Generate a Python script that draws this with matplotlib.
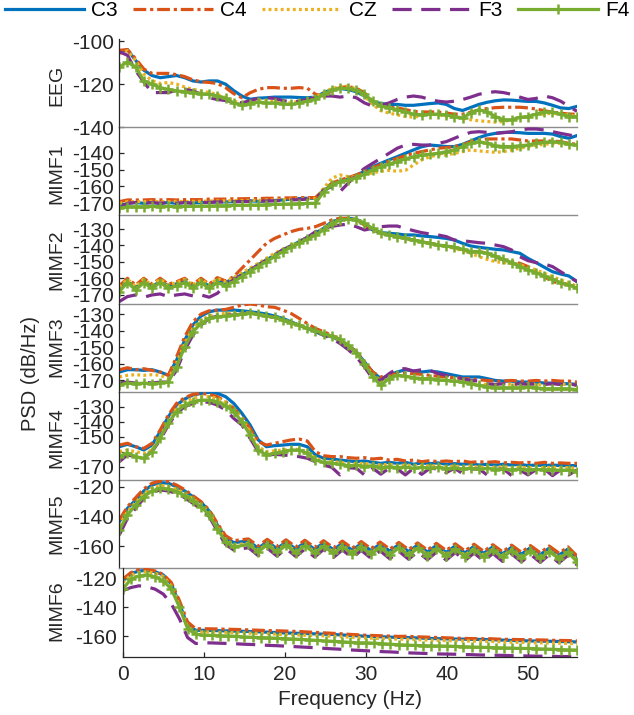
import matplotlib
matplotlib.use('Agg')
import matplotlib.pyplot as plt

plt.rcParams['font.family'] = ['Liberation Sans', 'DejaVu Sans']
plt.rcParams['axes.unicode_minus'] = False

# ---------------- data ----------------
channels = ['C3', 'C4', 'CZ', 'F3', 'F4']
panels = ['EEG', 'MIMF1', 'MIMF2', 'MIMF3', 'MIMF4', 'MIMF5', 'MIMF6']
freq = list(range(57))  # Hz
freq_m5 = [0, 1, 2, 3, 4, 5, 6, 7, 8, 9, 10, 11, 12, 13, 14,
           15.8, 17.0, 18.1, 19.3, 20.4, 21.6, 22.7, 23.9, 25.0, 26.2, 27.3, 28.5,
           29.6, 30.8, 31.9, 33.1, 34.2, 35.4, 36.5, 37.7, 38.8, 40.0, 41.1, 42.3,
           43.4, 44.6, 45.7, 46.9, 48.0, 49.2, 50.3, 51.5, 52.6, 53.8, 54.9, 56.0]
xticks = [0, 10, 20, 30, 40, 50]

eeg_c3 = [-105, -104, -109, -113.5, -116, -117, -116.5, -116, -117, -118.5,
          -119, -118.5, -118.5, -120, -123, -125.5, -127, -126.5, -126.3, -126,
          -126, -126, -126.2, -126.3, -126, -124, -122.5, -122, -122.5, -123.5,
          -125.5, -128, -129, -129.4, -129.4, -129.8, -129.8, -129.4, -129, -128.7,
          -129.4, -131.3, -132.2, -130.8, -129.4, -128.4, -127.7, -127.3, -127.4, -127.7,
          -128, -128, -128.7, -129.8, -131, -131.3, -130.3]
eeg_c4 = [-104.3, -104, -108.2, -113, -115, -115, -115, -115.6, -116.5, -118,
          -118.9, -119.2, -119.7, -121.6, -124.4, -126.3, -124, -122.4, -121.6, -121.6,
          -121.9, -121.9, -121.6, -121.9, -124.7, -125.5, -123.1, -121.6, -121.1, -121.9,
          -124, -127.9, -130.2, -130.7, -131, -131.8, -132.6, -132.9, -132.9, -132.9,
          -133.4, -133.9, -133.9, -133, -132, -131.3, -130.9, -130.7, -130.7, -130.7,
          -131, -131.5, -132.3, -133, -133.4, -133.9, -133.9]
eeg_cz = [-105.8, -104.5, -109, -115.3, -118.4, -119.7, -119.2, -120, -121.3, -122.4,
          -123.1, -123.9, -124.7, -126.3, -127.9, -128.7, -127.9, -127.4, -127.6, -127.9,
          -128.7, -128.7, -127.9, -127.1, -126, -123.9, -122, -121.3, -120.8, -122.4,
          -125.5, -129.4, -132.3, -133.4, -134.2, -135, -135.3, -134.6, -133.9, -134.2,
          -135, -135.4, -135.7, -136.5, -137, -137.3, -137.6, -137.3, -136.5, -135.4,
          -135, -134.2, -133.9, -133.4, -133.9, -134.2, -135]
eeg_f3 = [-105, -106.6, -113.7, -119, -123.9, -123.9, -123.9, -122.8, -122.4, -123.1,
          -124.7, -126.3, -127.1, -127.6, -128.2, -128.7, -127.6, -126.6, -126.3, -126.6,
          -127.6, -128.2, -127.9, -127.1, -126.3, -125.5, -125.5, -126, -125.5, -126.3,
          -128.7, -130.2, -129.8, -128.7, -127.1, -126, -125.5, -126, -127.1, -127.9,
          -128.3, -127.9, -127.1, -126, -124.7, -123.9, -123.5, -123.9, -124.7, -126,
          -127.1, -126.6, -125.5, -126.3, -127.9, -130.2, -132.6]
eeg_f4 = [-112, -109.8, -112, -118.4, -120, -121.6, -122.4, -123.1, -123.5, -123.9,
          -124.4, -124.7, -125.5, -126.6, -128.7, -129.8, -129.1, -128.3, -128.7, -128.7,
          -129.1, -129.4, -128.7, -127.9, -127.1, -124.7, -122.8, -122, -122, -122.8,
          -124.7, -127.9, -130.2, -131, -131.8, -132.9, -133.9, -134.2, -133.9, -133.9,
          -134.2, -135, -135.7, -133.4, -131.8, -132.9, -135, -136.5, -136.5, -135.4,
          -135, -133.9, -132.9, -132.9, -133.9, -135, -135]

m1_c3 = [-172, -170, -169.5, -170, -169.5, -170, -169.5, -170, -169.5, -169.8,
         -169.5, -169.3, -169, -169.2, -169, -168.8, -168.5, -168.8, -168.5, -168.3,
         -168, -167.5, -167.2, -167, -167, -163.1, -159.1, -157.2, -155.6, -153.2,
         -151.2, -148.3, -146.3, -144.3, -142.4, -140.4, -138.4, -136.5, -135.5, -135.9,
         -136.4, -136.4, -135.1, -133.1, -131.1, -129.5, -128.6, -128, -128, -128.2,
         -128.6, -128.6, -128.6, -129, -130.5, -131.5, -129.9]
m1_c4 = [-169, -168, -168, -168, -167.8, -168, -167.8, -168, -167.8, -167.8,
         -167.8, -167.5, -167.5, -167.5, -167.3, -167.3, -167.2, -167.2, -167, -167,
         -166.8, -166.8, -166.6, -166.6, -166.6, -162.1, -158.1, -156.2, -154.8, -153.2,
         -151.2, -148.9, -147, -145, -143.4, -141.8, -140.4, -139.4, -138.4, -137.4,
         -137, -136.4, -135.5, -133.5, -132.5, -131.9, -131.9, -131.9, -131.9, -132.5,
         -133.1, -133.1, -133.1, -133.1, -133.5, -134.5, -135.1]
m1_cz = [-170, -169, -169, -169, -168.8, -169, -169, -168.8, -169, -168.8,
         -168.8, -168.6, -168.6, -168.5, -168.4, -168.4, -168.2, -168.2, -168, -168,
         -167.8, -167.5, -167.5, -167.2, -167, -161.1, -155.2, -153.2, -154.2, -154.5,
         -153, -152, -151, -150.5, -151, -150.5, -147.3, -144.3, -142.4, -141.4,
         -141.4, -140.4, -139.4, -138.4, -139, -139.4, -139.8, -139.4, -138.4, -137.4,
         -136.4, -135.5, -135.1, -134.5, -134.5, -135.1, -135.5]
m1_f3 = [-173, -170, -169.5, -170, -169.5, -170, -169.5, -170, -169.5, -170,
         -169.5, -169.5, -169.2, -169.2, -169, -169, -168.8, -168.8, -168.6, -168.5,
         -168.3, -168, -167.8, -167.5, -167.2, -162.1, -160.1, -163.1, -158.1, -153.2,
         -149.3, -146.3, -143.4, -140.4, -137.4, -135.5, -135.1, -135.5, -135.5, -134.5,
         -133.5, -131.5, -129.5, -128, -127.6, -128, -128.6, -128.2, -127.6, -126.6,
         -126, -126, -126.6, -127.6, -128.6, -129.5, -130.5]
m1_f4 = [-173, -172, -172, -172, -171.8, -172, -171.8, -172, -171.8, -171.8,
         -171.6, -171.6, -171.4, -171.4, -171.2, -171.2, -171, -171, -170.8, -170.6,
         -170.5, -170.3, -170.2, -170, -170, -163.1, -159.1, -157.2, -156.2, -154.8,
         -152.8, -150.3, -148.3, -146.9, -145.3, -143.7, -142.4, -141.4, -141, -140.4,
         -139.4, -138.4, -136.4, -134.5, -133.5, -134.5, -135.9, -136.4, -136.4, -135.9,
         -135.5, -134.5, -133.9, -133.5, -133.9, -135.1, -135.5]

m2_c3 = [-166.6, -161.9, -165.4, -161.9, -164.9, -161.9, -164.5, -163.3, -161.9, -164.9,
         -161.9, -164.5, -161.3, -162.5, -159.9, -157.9, -154.8, -151.8, -148.8, -145.8,
         -142.7, -140.3, -137.7, -135.1, -132.4, -129.6, -125.6, -124.1, -123.5, -124.1,
         -126.6, -130.6, -132.2, -132.6, -133, -133.6, -133.6, -134.2, -134.6, -135.1,
         -135.7, -136.7, -138.7, -140.3, -141.1, -141.7, -142.3, -142.7, -143.7, -144.7,
         -147.8, -150.4, -153.2, -155.9, -157.3, -158.5, -161.9]
m2_c4 = [-164.5, -159.9, -164, -159.9, -163.5, -159.9, -163.5, -162, -159.9, -163.5,
         -159.9, -163.5, -159.5, -161.5, -158.9, -153.8, -148.8, -143.7, -138.7, -135.7,
         -133.6, -131.6, -130.2, -129.6, -128.6, -126.6, -124.5, -123.5, -123.5, -124.5,
         -127.6, -130.6, -132.6, -133.6, -134.6, -135.7, -136.7, -137.7, -138.7, -139.7,
         -140.3, -141.1, -142.7, -143.7, -143.7, -144.7, -146.8, -148.8, -149.8, -150.8,
         -152.8, -155.9, -158.9, -161.9, -162.9, -163.9, -165.4]
m2_cz = [-165, -160.5, -164.9, -160.5, -164, -160.5, -164, -162.5, -160.5, -164,
         -160.5, -164, -160, -162, -159.5, -156.5, -153.8, -150.8, -147.8, -144.7,
         -142.3, -140.3, -137.7, -135.1, -132.6, -129.6, -126.6, -124.5, -123.5, -124.1,
         -126.6, -130.2, -132.4, -133.6, -134.6, -135.7, -136.7, -137.7, -138.7, -139.7,
         -140.7, -141.7, -143.2, -144.7, -146.8, -148.4, -149.8, -150.4, -150.8, -151.8,
         -153.2, -154.8, -156.9, -158.9, -160.9, -162.5, -164.9]
m2_f3 = [-174, -171, -170, -171.4, -170, -169.4, -171, -170, -169.4, -170.6,
         -170, -171.4, -169, -163.9, -160.9, -157.9, -154.8, -151.8, -148.8, -145.8,
         -142.7, -140.3, -137.7, -135.1, -131.6, -129.6, -128.4, -127.6, -127, -128.6,
         -130.6, -129.6, -128.6, -128.2, -128.2, -129.6, -131, -132.2, -133, -133.6,
         -134.6, -136.7, -137.1, -137.7, -138.3, -138.7, -139.7, -140.7, -142.7, -146.8,
         -149.2, -150.4, -151.2, -152.8, -155.9, -158.9, -161.9]
m2_f4 = [-168, -162.5, -167, -162.5, -166, -162.5, -166, -164.5, -162.5, -166,
         -162.5, -166, -162.5, -164.5, -161.9, -158.9, -155.9, -152.8, -149.8, -146.8,
         -143.7, -141.1, -138.7, -136.3, -133.6, -130.6, -127, -124.5, -124.1, -124.5,
         -126.6, -129.6, -132.2, -133.6, -134.6, -135.7, -136.7, -137.7, -138.7, -139.7,
         -140.3, -141.1, -142.3, -143.7, -143.7, -144.7, -146.4, -148.4, -150.4, -152.8,
         -154.8, -156.5, -158.5, -160.5, -162.5, -163.9, -165.9]

m3_c3 = [-164.9, -163.5, -163.5, -163.9, -163.5, -164.9, -166.9, -157.8, -145.6, -136.5,
         -131, -128.4, -127.4, -127.4, -127.4, -127.8, -128.4, -129, -129.8, -131,
         -132.4, -134.5, -136.5, -138.5, -140.5, -142.6, -143.6, -145.6, -148.7, -152.7,
         -158.8, -164.9, -168.9, -166.9, -164.9, -163.5, -164.3, -164.9, -164.3, -164.9,
         -165.9, -166.9, -167.9, -167.9, -167.9, -168.9, -170, -170.4, -170.4, -171,
         -171, -171, -171.6, -171.6, -172, -172, -172.4]
m3_c4 = [-163.5, -162.3, -163.5, -162.9, -163.9, -164.9, -166.9, -155.8, -143.6, -134.5,
         -129.8, -127.8, -127.4, -127, -125.7, -124.3, -123.7, -124.3, -125.3, -125.7,
         -127.4, -129.4, -132.4, -135.5, -138.5, -140.5, -142.6, -145.2, -148.7, -152.7,
         -158.8, -164.9, -167.9, -166.9, -165.9, -165.5, -165.9, -166.3, -166.9, -167.5,
         -167.9, -168.3, -168.9, -168.9, -169.6, -170, -170.4, -170.4, -170, -170.4,
         -170.4, -170, -170.4, -170, -170.4, -170.4, -171]
m3_cz = [-167.9, -166.9, -166.5, -166.9, -166.5, -166.9, -168.9, -159.8, -147.6, -138.5,
         -133.4, -131, -129.8, -129.4, -129.4, -129.4, -129, -129.8, -131, -131.8,
         -133.4, -135.1, -136.5, -138.5, -139.9, -141.6, -143.2, -145.2, -148.7, -153.3,
         -159.8, -166.9, -170, -167.9, -166.9, -167.5, -168.3, -168.9, -168.9, -169.6,
         -170, -170.4, -171, -171.6, -172, -172.4, -172.4, -172, -172.4, -172.4,
         -172, -172.4, -172.4, -172.4, -172.4, -172.4, -173]
m3_f3 = [-171.6, -171, -171.6, -171, -171.6, -171, -171, -163.9, -151.7, -142.6,
         -136.5, -132.4, -131, -130.4, -130.4, -129.8, -129.4, -130, -131, -131.8,
         -133.4, -135.1, -136.5, -138.5, -139.9, -142.6, -144.6, -147.6, -151.3, -155.8,
         -161.8, -168.9, -170, -165.9, -162.9, -162.9, -164.3, -163.5, -163.9, -165.9,
         -166.9, -167.9, -168.9, -170, -170.4, -172, -172.4, -172, -172.4, -172,
         -172.4, -172, -172.4, -172, -172.4, -172, -173]
m3_f4 = [-173, -171.6, -172, -171.6, -172, -171.6, -171, -161.8, -149.7, -140.5,
         -135.5, -132.4, -131.4, -131, -130.4, -129.8, -129.4, -130, -131, -131.8,
         -133.4, -135.1, -136.5, -138.5, -139.9, -141.6, -143.2, -145.2, -148.7, -153.3,
         -159.8, -167.9, -173, -168.9, -166.9, -167.5, -168.3, -168.9, -168.9, -169.6,
         -170, -170.4, -171, -172, -173, -174, -174.4, -174.4, -174.4, -174.4,
         -174, -174.4, -175, -175, -175, -175, -175.6]

m4_c3 = [-156.7, -155.1, -156.7, -158.9, -155.6, -146.7, -136.7, -128.9, -124.9, -122.2,
         -121.1, -120.4, -121.1, -123.3, -127.8, -134.4, -142.2, -152.2, -156.7, -156,
         -155.6, -155.1, -155.1, -156.7, -162.2, -164.4, -164.9, -165.6, -166.2, -166.7,
         -166.2, -167.1, -167.8, -167.1, -167.8, -167.1, -168.4, -167.5, -168, -167.5,
         -168.4, -168, -168.4, -168, -168.9, -168.4, -168.9, -168.4, -168.9, -168.4,
         -169.3, -168.9, -169.3, -168.9, -169.3, -169.3, -169.3]
m4_c4 = [-155.6, -154.4, -156.7, -157.8, -154.4, -145.6, -135.6, -127.8, -124, -121.8,
         -121.1, -121.8, -123.3, -126.7, -131.1, -136.7, -144.4, -153.3, -155.6, -154.4,
         -153.3, -152.2, -151.6, -152.9, -160, -162.7, -163.3, -163.3, -164, -164.4,
         -164, -164.9, -164.4, -165.6, -165.1, -166.2, -165.6, -166.7, -166, -166.7,
         -166.2, -166.7, -166.2, -167.1, -166.7, -167.1, -166.7, -167.5, -167.1, -167.5,
         -167.1, -167.8, -167.1, -167.8, -167.5, -167.8, -167.8]
m4_cz = [-160, -158.9, -160, -161.1, -158.9, -150, -140, -131.1, -126.7, -124.4,
         -123.3, -123.3, -124.4, -127.1, -131.1, -137.8, -146.7, -156.7, -160, -159.5,
         -158.9, -158.5, -158.5, -160, -164.4, -166.2, -166.7, -167.1, -167.8, -168,
         -167.8, -168.4, -168.9, -168.4, -169.3, -168.9, -169.3, -169.3, -169.6, -169.3,
         -170, -169.6, -170, -169.6, -170.4, -170, -170.4, -170, -170.7, -170.4,
         -170.7, -170.4, -170.7, -170.4, -170.7, -170.7, -171.1]
m4_f3 = [-166.7, -162.2, -163.3, -164, -160, -152.2, -142.2, -134.4, -130, -127.8,
         -126.7, -127.1, -128.9, -132.2, -137.8, -142.2, -151.1, -160, -162.2, -161.8,
         -162.2, -162.7, -163.3, -164.4, -166.7, -168.9, -170.5, -175.5, -170.7, -171.1,
         -175.5, -171.1, -175, -171.1, -171.5, -175.5, -171.1, -175.1, -171.1, -171.5,
         -174, -171.1, -174.5, -171.6, -171.5, -175.5, -171.8, -171.5, -176, -172.2,
         -175.5, -172, -171.6, -176, -172.2, -175.5, -172.2]
m4_f4 = [-163.3, -161.1, -163.3, -164.4, -160, -151.1, -141.1, -133.3, -128.9, -126.7,
         -125.6, -125.6, -126.7, -129.3, -133.3, -140, -148.9, -158.9, -162.2, -161.1,
         -160, -158.9, -158.9, -161.1, -165.6, -167.1, -167.8, -168.4, -169.5, -168.9,
         -170, -169.3, -170.7, -170, -170.7, -170.2, -171.1, -170.5, -171.1, -170.5,
         -171.5, -170.7, -171.5, -171.1, -171.8, -171.1, -172, -171.5, -172.2, -171.5,
         -172.2, -171.8, -172.2, -172, -172.5, -172.2, -173.3]

m5_c3 = [-143.4, -134.4, -128.8, -122.7, -118.7, -117, -117.5, -119.8, -122.7, -126.5,
         -130.3, -136.2, -145.6, -154.2, -157.5,
         -156.4, -161.3, -156.8, -161.6, -157, -161.8, -157.3, -162, -157.6, -162.3,
         -157.9, -162.6, -158.2, -162.9, -158.5, -163.2, -158.8, -163.5, -159.1, -163.8,
         -159.4, -164.1, -159.7, -164.4, -160, -164.7, -160.3, -165, -160.6, -165.3,
         -160.9, -165.6, -161.2, -165.9, -161.8, -167.9]
m5_c4 = [-142.2, -133.3, -127.2, -121.3, -117.5, -116, -116.4, -118.7, -121.8, -125.8,
         -129.9, -135.5, -144.5, -152.8, -156.2,
         -155, -159.8, -155.3, -160.1, -155.6, -160.4, -155.9, -160.7, -156.2, -161,
         -156.5, -161.3, -156.8, -161.6, -157.1, -161.9, -157.4, -162.2, -157.7, -162.5,
         -158, -162.8, -158.3, -163.1, -158.6, -163.4, -158.9, -163.7, -159.2, -164,
         -159.5, -164.3, -159.8, -164.6, -160.4, -166.5]
m5_cz = [-146, -136.5, -130.5, -124.5, -120.5, -119, -119.5, -121.5, -124.3, -128,
         -131.8, -137.5, -147, -155.5, -159,
         -158, -162.8, -158.3, -163.1, -158.6, -163.4, -158.9, -163.7, -159.2, -164,
         -159.5, -164.3, -159.8, -164.6, -160.1, -164.9, -160.4, -165.2, -160.7, -165.5,
         -161, -165.8, -161.3, -166.1, -161.6, -166.4, -161.9, -166.7, -162.2, -167,
         -162.5, -167.3, -162.8, -167.6, -163.4, -169.5]
m5_f3 = [-152.4, -141.1, -134.4, -127.6, -123.6, -122, -122.7, -124.3, -127.2, -131,
         -134.8, -140, -149.7, -158.7, -162.5,
         -160.9, -166.3, -161.2, -166.6, -161.5, -166.9, -161.8, -167.2, -162.1, -167.5,
         -162.4, -167.8, -162.7, -168.1, -163, -168.4, -163.3, -168.7, -163.6, -169,
         -163.9, -169.3, -164.2, -169.6, -164.5, -169.9, -164.8, -170.2, -165.1, -170.5,
         -165.4, -170.8, -165.7, -171.1, -166, -172.6]
m5_f4 = [-149, -138.9, -132.1, -126.5, -122.7, -120.9, -121.3, -123.1, -125.8, -129.4,
         -133.3, -138.9, -148.3, -156.9, -160.5,
         -158.7, -163.6, -159, -163.9, -159.3, -164.2, -159.6, -164.5, -159.9, -164.8,
         -160.2, -165.1, -160.5, -165.4, -160.8, -165.7, -161.1, -166, -161.4, -166.3,
         -161.7, -166.6, -162, -166.9, -162.3, -167.2, -162.6, -167.5, -162.9, -167.8,
         -163.2, -168.1, -163.5, -168.4, -164.1, -170.3]

m6_c3 = [-121.8, -116.8, -115.0, -114.5, -115.5, -117.7, -124.1, -137.7, -152.5, -155.9,
         -155.9, -156.0, -156.2, -156.3, -156.5, -156.6, -156.8, -157.0, -157.2, -157.5,
         -157.7, -157.9, -158.0, -158.2, -158.4, -158.6, -158.8, -159.1, -159.4, -159.7,
         -160.0, -160.2, -160.4, -160.6, -160.8, -160.9, -161.1, -161.3, -161.5, -161.7,
         -161.8, -161.9, -162.0, -162.1, -162.2, -162.3, -162.5, -162.7, -162.9, -163.0,
         -163.2, -163.3, -163.4, -163.5, -163.6, -163.8, -163.9]
m6_c4 = [-120.7, -116.1, -113.9, -113.9, -115.0, -117.3, -123.0, -135.5, -150.2, -154.8,
         -154.8, -154.9, -155.0, -155.2, -155.3, -155.5, -155.7, -155.9, -156.1, -156.2,
         -156.4, -156.6, -156.8, -157.1, -157.4, -157.7, -158.0, -158.3, -158.7, -159.0,
         -159.3, -159.5, -159.7, -159.9, -160.1, -160.0, -160.3, -160.5, -160.7, -160.9,
         -161.1, -161.3, -161.5, -161.6, -161.8, -161.6, -161.9, -162.1, -162.2, -162.3,
         -162.3, -162.5, -162.6, -162.8, -162.9, -163.0, -163.2]
m6_cz = [-123.0, -117.8, -116.0, -115.5, -116.5, -118.7, -125.2, -139.0, -153.6, -157.0,
         -157.0, -157.1, -157.3, -157.4, -157.6, -157.7, -157.9, -158.1, -158.3, -158.6,
         -158.8, -159.0, -159.2, -159.4, -159.6, -159.8, -160.0, -160.3, -160.6, -160.9,
         -161.2, -161.4, -161.6, -161.8, -162.0, -162.1, -162.3, -162.5, -162.7, -162.9,
         -163.0, -163.1, -163.2, -163.3, -163.4, -163.5, -163.7, -163.9, -164.1, -164.2,
         -164.4, -164.5, -164.6, -164.7, -164.8, -165.0, -165.1]
m6_f3 = [-128.6, -126.4, -125.2, -125.9, -127.5, -130.9, -137.7, -148.0, -160.9, -165.0,
         -164.5, -164.6, -164.8, -165.0, -165.2, -165.5, -165.7, -166.0, -166.3, -166.5,
         -166.8, -167.1, -167.4, -167.7, -168.0, -168.4, -168.7, -169.0, -169.4, -169.7,
         -170.0, -170.3, -170.6, -170.8, -171.1, -171.4, -171.6, -171.8, -172.0, -172.2,
         -172.3, -172.4, -172.6, -172.7, -172.9, -173.0, -173.1, -173.2, -173.4, -173.5,
         -173.6, -173.7, -173.8, -173.9, -174.0, -174.0, -174.1]
m6_f4 = [-127.5, -120.7, -118.4, -117.7, -119.1, -121.8, -127.5, -140.0, -154.8, -158.6,
         -159.3, -159.4, -159.6, -159.8, -160.1, -160.5, -160.7, -160.9, -161.1, -161.4,
         -161.6, -161.9, -162.2, -162.5, -162.9, -163.2, -163.5, -163.8, -164.2, -164.5,
         -164.5, -164.8, -165.1, -165.5, -165.8, -166.1, -166.3, -166.5, -166.6, -166.7,
         -166.8, -167.0, -167.2, -167.4, -167.6, -167.7, -167.9, -168.0, -168.2, -168.4,
         -168.4, -168.6, -168.8, -169.0, -169.2, -169.4, -169.5]

ylims = {'EEG': (-140, -99.2), 'MIMF1': (-176.9, -125), 'MIMF2': (-175.5, -121.5),
         'MIMF3': (-177, -123.7), 'MIMF4': (-178.9, -120.2), 'MIMF5': (-174.4, -115.3),
         'MIMF6': (-174.1, -112.7)}
yticks = {'EEG': [-140, -120, -100], 'MIMF1': [-170, -160, -150, -140],
          'MIMF2': [-170, -160, -150, -140, -130], 'MIMF3': [-170, -160, -150, -140, -130],
          'MIMF4': [-170, -160, -150, -140, -130], 'MIMF5': [-160, -140, -120],
          'MIMF6': [-160, -140, -120]}
ytick_labels = {'MIMF4': ['-170', '', '-150', '-140', '-130']}

panel_data = {
    'EEG': (freq, [eeg_c3, eeg_c4, eeg_cz, eeg_f3, eeg_f4]),
    'MIMF1': (freq, [m1_c3, m1_c4, m1_cz, m1_f3, m1_f4]),
    'MIMF2': (freq, [m2_c3, m2_c4, m2_cz, m2_f3, m2_f4]),
    'MIMF3': (freq, [m3_c3, m3_c4, m3_cz, m3_f3, m3_f4]),
    'MIMF4': (freq, [m4_c3, m4_c4, m4_cz, m4_f3, m4_f4]),
    'MIMF5': (freq_m5, [m5_c3, m5_c4, m5_cz, m5_f3, m5_f4]),
    'MIMF6': (freq, [m6_c3, m6_c4, m6_cz, m6_f3, m6_f4]),
}
for p, (fx, ser) in panel_data.items():
    for s in ser:
        if len(s) != len(fx):
            raise ValueError(f'{p}: {len(s)} vs {len(fx)}')

# ---------------- style / layout ----------------
W, H = 634, 715
styles = {
    'C3': dict(color='#0072BD', ls='-', lw=2.3),
    'C4': dict(color='#D95319', ls=(0, (4, 1.2, 1, 1.2)), lw=2.3),
    'CZ': dict(color='#EDB120', ls=(0, (0.9, 1.0)), lw=2.3),
    'F3': dict(color='#7E2F8E', ls=(0, (6, 3)), lw=2.3),
    'F4': dict(color='#77AC30', ls='-', lw=2.3, marker='+', ms=7, mew=1.8),
}
# (top, bottom, left) in pixels
boxes = {'EEG': (39.3, 127.3, 119.3), 'MIMF1': (127.3, 215, 119.3),
         'MIMF2': (215, 304, 119.3), 'MIMF3': (304, 392, 119.3),
         'MIMF4': (392, 480, 119.3), 'MIMF5': (480, 567.7, 119.3),
         'MIMF6': (567.7, 656.7, 122.7)}
right_px = 577
label_y = {'EEG': 85, 'MIMF1': 174, 'MIMF2': 260, 'MIMF3': 347, 'MIMF4': 438,
           'MIMF5': 524, 'MIMF6': 611}

fig = plt.figure(figsize=(W / 100, H / 100), dpi=100)
dark = '#262626'
handles = None
for p in panels:
    top, bot, left = boxes[p]
    ax = fig.add_axes([left / W, 1 - bot / H, (right_px - left) / W, (bot - top) / H])
    ax.patch.set_alpha(0)
    fx, ser = panel_data[p]
    hs = []
    for ch, s in zip(channels, ser):
        h, = ax.plot(fx, s, label=ch, **styles[ch])
        hs.append(h)
    handles = hs
    ax.set_xlim(0, 56)
    ax.set_ylim(*ylims[p])
    ax.set_yticks(yticks[p])
    if p in ytick_labels:
        ax.set_yticklabels(ytick_labels[p])
    for s in ['top', 'right']:
        ax.spines[s].set_visible(False)
    ax.spines['left'].set_color(dark)
    ax.spines['left'].set_linewidth(0.9)
    ax.tick_params(axis='y', direction='in', length=3.5, width=0.9, colors=dark,
                   labelsize=15, pad=4)
    if p == 'MIMF6':
        ax.spines['bottom'].set_color(dark)
        ax.spines['bottom'].set_linewidth(0.9)
        ax.set_xticks(xticks)
        ax.tick_params(axis='x', direction='in', length=3.5, width=0.9, colors=dark,
                       labelsize=15, pad=6)
        ax.set_xlabel('Frequency (Hz)', fontsize=15, color=dark, labelpad=4)
    else:
        ax.spines['bottom'].set_color('#8c8c8c')
        ax.spines['bottom'].set_linewidth(1.0)
        ax.set_xticks([])
    fig.text(57 / W, 1 - label_y[p] / H, p, rotation=90,
             ha='center', va='center', fontsize=14, color=dark)

fig.text(30 / W, 1 - 373 / H, 'PSD (dB/Hz)', rotation=90, ha='center', va='center',
         fontsize=14.5, color=dark)

fig.legend(handles, channels, loc='upper center', bbox_to_anchor=(0.5, 1.0),
           ncol=5, frameon=False, fontsize=15, handlelength=3.8, handletextpad=0.35,
           columnspacing=0.75, borderaxespad=0.0, borderpad=0.05, numpoints=1)

fig.savefig('out.png', dpi=100)
